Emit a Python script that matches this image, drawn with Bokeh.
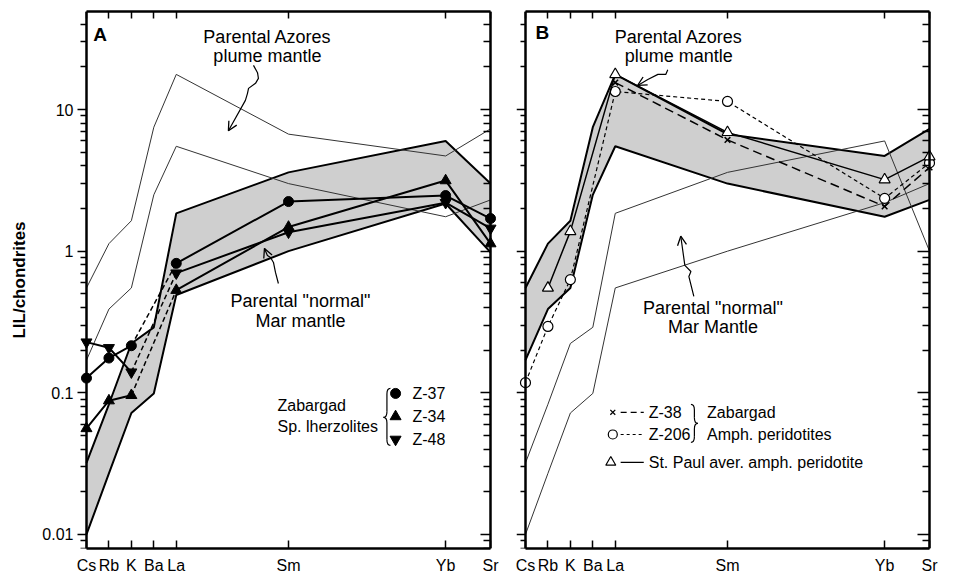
import math
from bokeh.plotting import figure
from bokeh.models import FixedTicker, LogAxis, LinearAxis, Range1d, Arrow, OpenHead
from bokeh.layouts import row
from bokeh.embed import file_html
from bokeh.resources import INLINE
from bokeh.core.properties import value

FONT = "Liberation Sans"
NAN = float("nan")

# ---------------- data ----------------
elements = ["Cs", "Rb", "K", "Ba", "La", "Sm", "Yb", "Sr"]
elem_pos = [0, 1, 2, 3, 4, 9, 16, 18]

# parental "normal" MAR mantle (band in A, thin lines in B)
mar_upper = [0.032, 0.083, 0.223, 0.29, 1.85, 3.6, 6.0, 3.0]
mar_lower = [0.010, 0.027, 0.072, 0.099, 0.49, 1.0, 2.17, 0.98]
mar_line1_b = [0.032, 0.083, 0.223, 0.29, 1.85, 3.6, 6.0, 1.0]
mar_line2_b = [0.010, 0.027, 0.072, 0.099, 0.55, 1.0, 2.2, 3.0]

# parental Azores plume mantle (thin lines in A, band in B)
azores_upper = [0.55, 1.13, 1.64, 7.5, 17.7, 6.7, 4.7, 7.3]
azores_lower = [0.17, 0.39, 0.55, 2.5, 5.5, 3.0, 1.75, 2.3]

# Zabargad Sp. lherzolites (panel A)
z37 = [0.127, 0.176, 0.215, NAN, 0.82, 2.24, 2.47, 1.70]
z34 = [0.056, 0.088, 0.096, NAN, 0.53, 1.48, 3.15, 1.13]
z48 = [0.228, 0.208, 0.14, NAN, 0.70, 1.36, 2.20, 1.45]

# Zabargad amph. peridotites and St. Paul (panel B)
z38 = [NAN, NAN, NAN, NAN, 15.5, 6.1, 2.07, 3.9]
z206 = [0.118, 0.294, 0.63, NAN, 13.4, 11.4, 2.36, 4.2]
stpaul = [NAN, 0.55, 1.38, NAN, 17.7, 6.9, 3.2, 4.65]

y_major = [0.01, 0.1, 1.0, 10.0]
y_major_labels = ["0.01", "0.1", "1", "10"]

X_MIN, X_MAX = 0, 18
X_PAD = 0.4
Y_MIN, Y_MAX = 0.00796, 49.2
y_minor = [m * 10.0 ** e for e in range(-3, 2) for m in range(2, 10)
           if Y_MIN < m * 10.0 ** e < Y_MAX]


def valid(xs, ys):
    pts = [(x, y) for x, y in zip(xs, ys) if not math.isnan(y)]
    return [p[0] for p in pts], [p[1] for p in pts]


def make_fig(left_border, right_border):
    # the frame is a little wider than the axes box so that markers on Cs / Sr are not clipped
    p = figure(frame_width=422, frame_height=537,
               x_range=Range1d(X_MIN - X_PAD, X_MAX + X_PAD), y_range=Range1d(Y_MIN, Y_MAX),
               y_axis_type="log", x_axis_location=None, y_axis_location=None,
               output_backend="svg", toolbar_location=None,
               min_border_left=left_border, min_border_right=right_border,
               min_border_top=11, min_border_bottom=29,
               background_fill_color="white", border_fill_color="white",
               outline_line_color=None)
    p.xgrid.visible = False
    p.ygrid.visible = False

    bottom = LinearAxis(ticker=FixedTicker(ticks=elem_pos, minor_ticks=[]),
                        major_label_overrides={pos: nm for pos, nm in zip(elem_pos, elements)})
    bottom.major_tick_in = 8
    bottom.major_tick_out = 0
    bottom.major_label_standoff = 8
    bottom.major_label_text_font = FONT
    bottom.major_label_text_font_size = "16px"
    bottom.major_label_text_color = "black"
    top = LinearAxis(ticker=FixedTicker(ticks=elem_pos, minor_ticks=[]),
                     major_label_overrides={pos: "" for pos in elem_pos})
    top.major_tick_in = 7
    top.major_tick_out = 0
    top.major_label_standoff = 0
    top.major_label_text_font_size = "0px"
    for ax in (bottom, top):
        ax.bounds = (X_MIN, X_MAX)
        ax.axis_line_width = 2.5
        ax.major_tick_line_width = 1.5
    p.add_layout(bottom, "below")
    p.add_layout(top, "above")
    return p


def y_tick_axis(tick_in, tick_out, minor_in, minor_out, loc):
    ax = LogAxis(ticker=FixedTicker(ticks=y_major, minor_ticks=y_minor), fixed_location=loc)
    ax.major_label_overrides = {v: "" for v in y_major}
    ax.major_label_text_font_size = "0px"
    ax.major_label_standoff = 0
    ax.major_tick_in = tick_in
    ax.major_tick_out = tick_out
    ax.minor_tick_in = minor_in
    ax.minor_tick_out = minor_out
    ax.axis_line_width = 2.5
    ax.major_tick_line_width = 1.5
    ax.minor_tick_line_width = 1.3
    return ax


def y_label_axis():
    # carries only the tick labels and the axis title, placed at the frame edge
    ax = LogAxis(ticker=FixedTicker(ticks=y_major, minor_ticks=[]))
    ax.major_label_overrides = {v: s for v, s in zip(y_major, y_major_labels)}
    ax.major_label_text_font = FONT
    ax.major_label_text_font_size = "16px"
    ax.major_label_text_color = "black"
    ax.major_label_standoff = 4
    ax.major_tick_in = 0
    ax.major_tick_out = 0
    ax.minor_tick_in = 0
    ax.minor_tick_out = 0
    ax.axis_line_color = None
    ax.major_tick_line_color = None
    ax.minor_tick_line_color = None
    ax.axis_label = "LIL/chondrites"
    ax.axis_label_text_font = FONT
    ax.axis_label_text_font_style = "bold"
    ax.axis_label_text_font_size = "17px"
    ax.axis_label_text_color = "black"
    ax.axis_label_standoff = 10
    return ax


def add_text(p, xs, ys, texts, size, align="center", bold=False):
    p.text(x=xs, y=ys, text=texts, text_font=value(FONT), text_font_size=size,
           text_align=align, text_baseline="middle", text_color="black",
           text_font_style="bold" if bold else "normal")


def brace(p, x_tip, x_arm, y_top, y_mid, y_bot, r=0.04):
    xm = (x_tip + x_arm) / 2.0
    k = 10 ** r
    p.quadratic(x0=[x_arm, xm, x_tip, xm], y0=[y_top, y_mid * k, y_mid, y_bot * k],
                x1=[xm, x_tip, xm, x_arm], y1=[y_top / k, y_mid, y_mid / k, y_bot],
                cx=[xm, xm, xm, xm], cy=[y_top, y_mid, y_mid, y_bot],
                line_color="black", line_width=1.2)
    p.segment(x0=[xm, xm], y0=[y_top / k, y_mid / k], x1=[xm, xm], y1=[y_mid * k, y_bot * k],
              line_color="black", line_width=1.2)


def squiggle_arrow(p, xs, ys):
    p.line(xs, ys, line_color="black", line_width=1.2)
    p.add_layout(Arrow(end=OpenHead(size=9, line_width=1.3, line_color="black"),
                       x_start=xs[-1], y_start=ys[-1], x_end=xs[-1] - (xs[-2] - xs[-1]) * 0.01,
                       y_end=ys[-1] * (ys[-1] / ys[-2]) ** 0.01,
                       line_width=1.2, line_color="black"))


BAND_FILL = "#cfcfcf"

# ---------------- panel A ----------------
pA = make_fig(77, 8)
pA.add_layout(y_label_axis(), "left")
pA.add_layout(y_tick_axis(0, 10, 0, 6, X_MIN), "left")
pA.add_layout(y_tick_axis(10, 0, 7, 0, X_MAX), "right")

pA.patch(elem_pos + elem_pos[::-1], mar_upper + mar_lower[::-1],
         fill_color=BAND_FILL, line_color=None)
pA.line(elem_pos, mar_upper, line_color="black", line_width=2)
pA.line(elem_pos, mar_lower, line_color="black", line_width=2)
pA.line(elem_pos, azores_upper, line_color="#333333", line_width=1)
pA.line(elem_pos, azores_lower, line_color="#333333", line_width=1)

for vals, mk in ((z37, "circle"), (z34, "triangle"), (z48, "inverted_triangle")):
    pA.line(elem_pos, vals, line_color="black", line_width=2)
    pA.line([elem_pos[2], elem_pos[4]], [vals[2], vals[4]], line_color="black",
            line_width=1.5, line_dash="5 3")
    xv, yv = valid(elem_pos, vals)
    pA.scatter(xv, yv, marker=mk, size=11 if mk != "circle" else 10,
               fill_color="black", line_color="black")

add_text(pA, [0.3], [34.0], ["A"], "19px", align="left", bold=True)
add_text(pA, [8.06, 8.06], [32.7, 23.7], ["Parental Azores", "plume mantle"], "18px")
add_text(pA, [9.53, 9.53], [0.442, 0.319], ['Parental "normal"', "Mar mantle"], "18px")
squiggle_arrow(pA, [7.44, 7.62, 7.66, 7.53, 7.22, 7.17, 7.08, 6.33],
               [20.5, 18.2, 16.6, 15.3, 14.1, 12.96, 11.6, 7.11])
squiggle_arrow(pA, [8.55, 8.42, 8.33, 8.20, 8.06, 7.93],
               [0.591, 0.708, 0.832, 0.903, 0.933, 1.045])

# legend A
add_text(pA, [8.51, 8.51], [0.0815, 0.058], ["Zabargad", "Sp. lherzolites"], "16px", align="left")
brace(pA, 13.23, 13.54, 0.1074, 0.067, 0.0426)
pA.scatter([13.77], [0.099], marker="circle", size=10, color="black")
pA.scatter([13.77], [0.068], marker="triangle", size=11, color="black")
pA.scatter([13.77], [0.0469], marker="inverted_triangle", size=11, color="black")
add_text(pA, [14.52, 14.52, 14.52], [0.099, 0.068, 0.0469], ["Z-37", "Z-34", "Z-48"], "16px", align="left")

# ---------------- panel B ----------------
pB = make_fig(9, 16)
pB.add_layout(y_tick_axis(0, 9, 0, 5, X_MIN), "left")
pB.add_layout(y_tick_axis(12, 0, 7, 0, X_MAX), "right")

pB.patch(elem_pos + elem_pos[::-1], azores_upper + azores_lower[::-1],
         fill_color=BAND_FILL, line_color=None)
pB.line(elem_pos, azores_upper, line_color="black", line_width=2)
pB.line(elem_pos, azores_lower, line_color="black", line_width=2)
pB.line(elem_pos, mar_line1_b, line_color="#333333", line_width=1)
pB.line(elem_pos, mar_line2_b, line_color="#333333", line_width=1)

xv, yv = valid(elem_pos, z38)
pB.line(xv, yv, line_color="black", line_width=1.5, line_dash="9 5")
pB.scatter(xv, yv, marker="x", size=8, line_color="black", line_width=1.5)
xv, yv = valid(elem_pos, z206)
pB.line(xv, yv, line_color="black", line_width=1.2, line_dash="4 3")
pB.scatter(xv, yv, marker="circle", size=10, fill_color="white", line_color="black", line_width=1.2)
xv, yv = valid(elem_pos, stpaul)
pB.line(xv, yv, line_color="black", line_width=1.5)
pB.scatter(xv, yv, marker="triangle", size=11, fill_color="white", line_color="black", line_width=1.2)

add_text(pB, [0.45], [34.9], ["B"], "19px", align="left", bold=True)
add_text(pB, [6.83, 6.83], [32.7, 23.7], ["Parental Azores", "plume mantle"], "18px")
add_text(pB, [8.35, 8.35], [0.40, 0.29], ['Parental "normal"', "Mar Mantle"], "18px")
squiggle_arrow(pB, [6.34, 6.25, 5.90, 5.45, 5.00], [19.1, 17.7, 17.7, 16.3, 14.8])
squiggle_arrow(pB, [7.50, 7.28, 7.37, 7.10, 6.92], [0.479, 0.662, 0.719, 0.793, 1.27])

# legend B
pB.scatter([3.89], [0.0728], marker="x", size=7, line_color="black", line_width=1.3)
pB.line([4.24, 5.27], [0.0728, 0.0728], line_color="black", line_width=1.3, line_dash="6 4")
pB.scatter([3.89], [0.0508], marker="circle", size=9, fill_color="white", line_color="black", line_width=1.2)
pB.line([4.24, 5.23], [0.0508, 0.0508], line_color="black", line_width=1.2, line_dash="3 3")
pB.scatter([3.80], [0.0323], marker="triangle", size=10, fill_color="white", line_color="black", line_width=1.2)
pB.line([4.24, 5.27], [0.0323, 0.0323], line_color="black", line_width=1.2)
add_text(pB, [5.49, 5.49, 5.49], [0.0728, 0.0508, 0.0323],
         ["Z-38", "Z-206", "St. Paul aver. amph. peridotite"], "16px", align="left")
brace(pB, 7.68, 7.37, 0.0828, 0.0608, 0.0447)
add_text(pB, [8.09, 8.09], [0.0728, 0.0508], ["Zabargad", "Amph. peridotites"], "16px", align="left")

layout = row(pA, pB)
open("out.html", "w").write(file_html(layout, INLINE))
